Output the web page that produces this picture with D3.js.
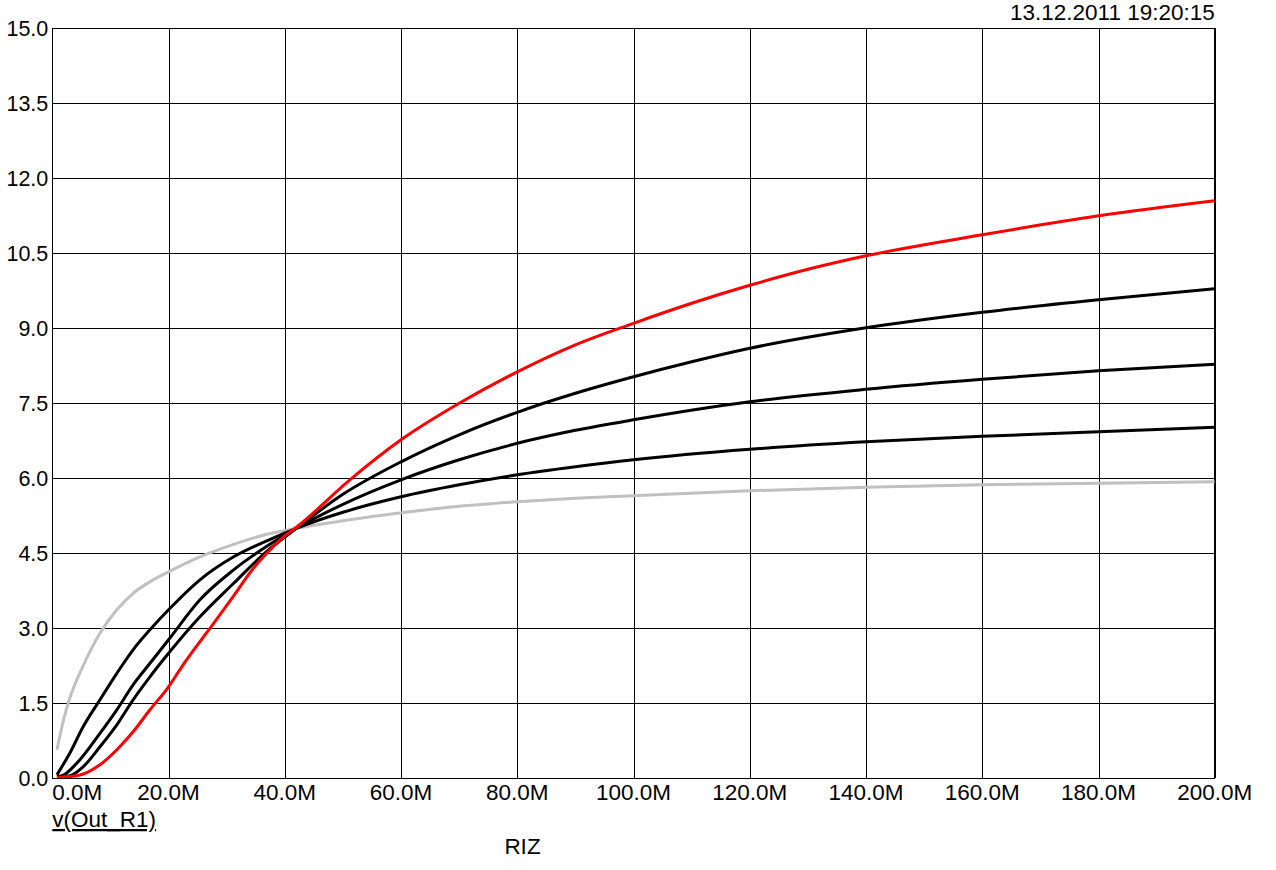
<!DOCTYPE html>
<html>
<head>
<meta charset="utf-8">
<script src="https://cdn.jsdelivr.net/npm/d3@7"></script>
<style>
  html, body { margin: 0; padding: 0; background: #fff; }
  svg { display: block; font-family: "Liberation Sans", Arial, sans-serif; }
</style>
</head>
<body>
<svg id="chart" width="1276" height="870"></svg>
<script>
// ---- data (x in M, y in volts) ----
const xTicks = [0, 20, 40, 60, 80, 100, 120, 140, 160, 180, 200];
const yTicks = [0, 1.5, 3, 4.5, 6, 7.5, 9, 10.5, 12, 13.5, 15];
const timestamp = "13.12.2011 19:20:15";
const traceLabel = "v(Out_R1)";
const xAxisLabel = "RIZ";

const grayX = [0.8, 2, 3, 5.3, 8.2, 11.1, 13.9, 16.8, 20, 25.4, 31.2, 36.9, 42, 50, 60, 70, 80, 90, 100, 120, 140, 160, 180, 200];
const grayY = [0.57, 1.2, 1.6, 2.25, 2.9, 3.37, 3.7, 3.93, 4.13, 4.43, 4.68, 4.88, 5.0, 5.15, 5.31, 5.44, 5.53, 5.6, 5.65, 5.75, 5.82, 5.87, 5.9, 5.93];

const lowX = [0.8, 3, 5.3, 8.2, 11.1, 13.9, 16.8, 20, 25.4, 31.2, 36.9, 42, 50, 60, 70, 80, 90, 100, 120, 140, 160, 180, 200];
const lowY = [0.07, 0.5, 1.03, 1.57, 2.1, 2.57, 2.97, 3.37, 3.97, 4.43, 4.75, 5.0, 5.32, 5.63, 5.87, 6.07, 6.23, 6.37, 6.58, 6.73, 6.84, 6.93, 7.02];

const midX = [0.8, 2, 4.2, 8.2, 11.1, 13.9, 16.8, 20, 25.4, 31.2, 36.9, 42, 50, 60, 70, 80, 90, 100, 120, 140, 160, 180, 200];
const midY = [0.03, 0.07, 0.3, 0.9, 1.37, 1.87, 2.3, 2.77, 3.57, 4.17, 4.64, 5.0, 5.48, 5.97, 6.37, 6.7, 6.96, 7.17, 7.53, 7.78, 7.98, 8.15, 8.28];

const highX = [0.8, 3, 5.3, 8.2, 11.1, 13.9, 16.8, 20, 25.4, 31.2, 36.9, 42, 50, 60, 70, 80, 90, 100, 110, 120, 140, 160, 180, 200];
const highY = [0.02, 0.05, 0.23, 0.63, 1.07, 1.57, 2.03, 2.5, 3.23, 3.9, 4.54, 5.0, 5.68, 6.33, 6.87, 7.32, 7.7, 8.03, 8.33, 8.6, 9.01, 9.32, 9.57, 9.79];

const redX = [0.8, 4.2, 8.2, 11.1, 13.9, 16.8, 20, 22.5, 28.2, 31.2, 34.4, 36.9, 39.8, 42.1, 51.2, 60, 70, 80, 90, 100, 110, 120, 130, 140, 160, 180, 200];
const redY = [0.02, 0.05, 0.27, 0.57, 0.93, 1.37, 1.83, 2.27, 3.17, 3.65, 4.17, 4.5, 4.83, 5.03, 5.97, 6.77, 7.5, 8.13, 8.67, 9.1, 9.5, 9.86, 10.18, 10.45, 10.87, 11.25, 11.55];

const series = [
  { name: "gray", xs: grayX, ys: grayY, color: "#c0c0c0" },
  { name: "low", xs: lowX, ys: lowY, color: "#000000" },
  { name: "mid", xs: midX, ys: midY, color: "#000000" },
  { name: "high", xs: highX, ys: highY, color: "#000000" },
  { name: "red", xs: redX, ys: redY, color: "#ff0000" }
];

// ---- layout ----
const L = 52.3, R = 1214.8, T = 28.3, B = 778.3;
const FS = 22.5, FSY = 21.5;

const svg = d3.select("#chart");
const x = d3.scaleLinear().domain([0, 200]).range([L, R]);
const y = d3.scaleLinear().domain([0, 15]).range([B, T]);

// grid lines via axes
svg.append("g").attr("transform", `translate(0,${B})`)
  .call(d3.axisBottom(x).tickValues(xTicks).tickSize(-(B - T)).tickFormat(""));
svg.append("g").attr("transform", `translate(${L},0)`)
  .call(d3.axisLeft(y).tickValues(yTicks).tickSize(-(R - L)).tickFormat(""));
svg.selectAll(".domain").remove();
svg.selectAll(".tick line").attr("stroke", "#000").attr("stroke-width", 1).attr("shape-rendering", "crispEdges");

// border
svg.append("rect").attr("x", L).attr("y", T).attr("width", R - L).attr("height", B - T)
  .attr("fill", "none").attr("stroke", "#000").attr("stroke-width", 1).attr("shape-rendering", "crispEdges");

// y labels
svg.append("g").selectAll("text").data(yTicks).join("text")
  .attr("x", L - 4).attr("y", d => y(d) + 7.8)
  .attr("text-anchor", "end").attr("font-size", FSY).attr("fill", "#000")
  .text(d => d.toFixed(1));

// x labels
svg.append("g").selectAll("text").data(xTicks).join("text")
  .attr("x", (d, i) => i === 0 ? L : x(d))
  .attr("y", 800)
  .attr("text-anchor", (d, i) => i === 0 ? "start" : "middle")
  .attr("font-size", FS).attr("fill", "#000")
  .text(d => d.toFixed(1) + "M");

// curves
const line = d3.line().x(d => x(d[0])).y(d => y(d[1])).curve(d3.curveMonotoneX);
svg.append("clipPath").attr("id", "clip").append("rect")
  .attr("x", L).attr("y", T).attr("width", R - L).attr("height", B - T);
svg.append("g").attr("clip-path", "url(#clip)").selectAll("path").data(series).join("path")
  .attr("d", s => line(s.xs.map((v, i) => [v, s.ys[i]])))
  .attr("fill", "none").attr("stroke", s => s.color).attr("stroke-width", 3)
  .attr("stroke-linejoin", "round");

// texts
svg.append("text").attr("x", R).attr("y", 20).attr("text-anchor", "end")
  .attr("font-size", FS).attr("fill", "#000").text(timestamp);
svg.append("text").attr("x", L).attr("y", 827).attr("font-size", FS).attr("fill", "#000")
  .attr("text-decoration", "underline").text(traceLabel);
svg.append("text").attr("x", 522.5).attr("y", 854).attr("text-anchor", "middle")
  .attr("font-size", FS).attr("fill", "#000").text(xAxisLabel);
</script>
</body>
</html>
